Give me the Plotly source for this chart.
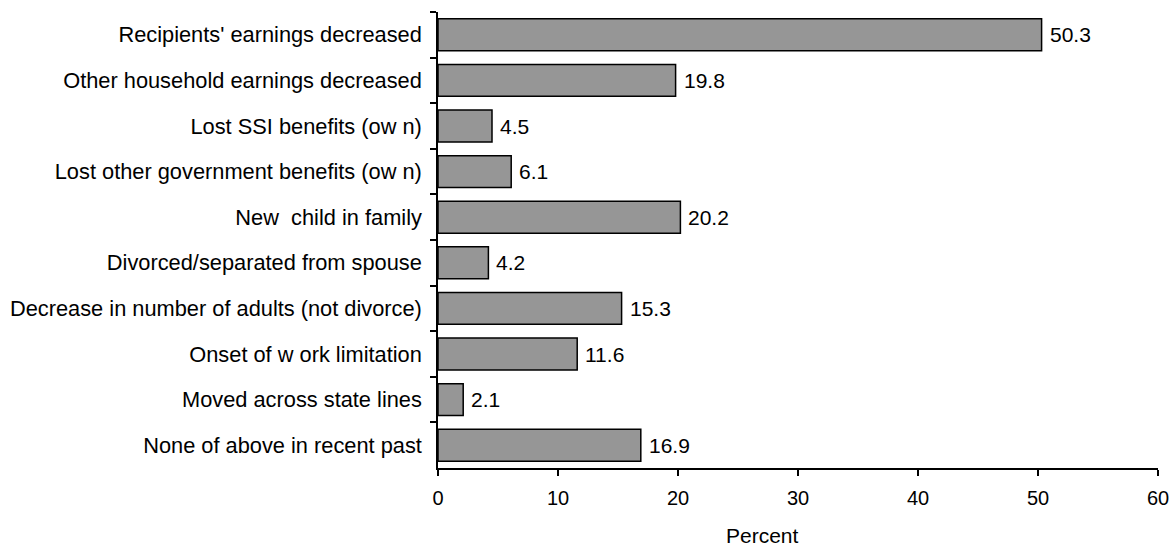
import plotly.graph_objects as go

categories = [
    "Recipients' earnings decreased",
    "Other household earnings decreased",
    "Lost SSI benefits (ow n)",
    "Lost other government benefits (ow n)",
    "New  child in family",
    "Divorced/separated from spouse",
    "Decrease in number of adults (not divorce)",
    "Onset of w ork limitation",
    "Moved across state lines",
    "None of above in recent past",
]
values = [50.3, 19.8, 4.5, 6.1, 20.2, 4.2, 15.3, 11.6, 2.1, 16.9]
x_ticks = [0, 10, 20, 30, 40, 50, 60]

FONT = "Liberation Sans, Arial, sans-serif"

W, H = 1172, 546
ml, mt = 438, 12
mr = W - 1158
mb = H - 468
pw = W - ml - mr
ph = H - mt - mb

fig = go.Figure()
fig.add_trace(go.Bar(
    x=values,
    y=categories,
    orientation="h",
    width=0.7,
    marker=dict(color="#969696", line=dict(color="black", width=1.5)),
    hoverinfo="x+y",
))

for v, c in zip(values, categories):
    fig.add_annotation(
        x=v, y=c, xref="x", yref="y",
        text=f"{v:.1f}", showarrow=False,
        xanchor="left", yanchor="middle", xshift=6,
        font=dict(family=FONT, size=21, color="black"),
    )

title_px_x = 762
title_px_y = 535
fig.add_annotation(
    x=(title_px_x - ml) / pw, y=(H - title_px_y - mb) / ph,
    xref="paper", yref="paper",
    text="Percent", showarrow=False,
    xanchor="center", yanchor="middle",
    font=dict(family=FONT, size=21, color="black"),
)

fig.update_layout(
    width=W, height=H,
    margin=dict(l=ml, r=mr, t=mt, b=mb, pad=0),
    plot_bgcolor="white", paper_bgcolor="white",
    showlegend=False,
    font=dict(family=FONT, size=20, color="black"),
)
fig.update_xaxes(
    range=[0, 60], tickvals=x_ticks, ticktext=[str(t) for t in x_ticks],
    showgrid=False, zeroline=False,
    showline=True, linecolor="black", linewidth=1.5,
    ticks="outside", ticklen=6, tickwidth=1.5, tickcolor="black",
    ticklabelstandoff=5,
    tickfont=dict(family=FONT, size=20, color="black"),
    automargin=False,
)
fig.update_yaxes(
    type="category", categoryorder="array", categoryarray=categories,
    range=[len(categories) - 0.5, -0.5],
    showgrid=False, zeroline=False,
    showline=True, linecolor="black", linewidth=1.5,
    ticks="outside", tickson="boundaries", ticklen=6, tickwidth=1.5, tickcolor="black",
    ticklabelstandoff=10,
    tickfont=dict(family=FONT, size=21.8, color="black"),
    automargin=False,
)

fig.write_html(
    "out.html",
    config={"displayModeBar": False},
    post_script="document.body.style.margin='0';document.body.style.overflow='hidden';",
)
